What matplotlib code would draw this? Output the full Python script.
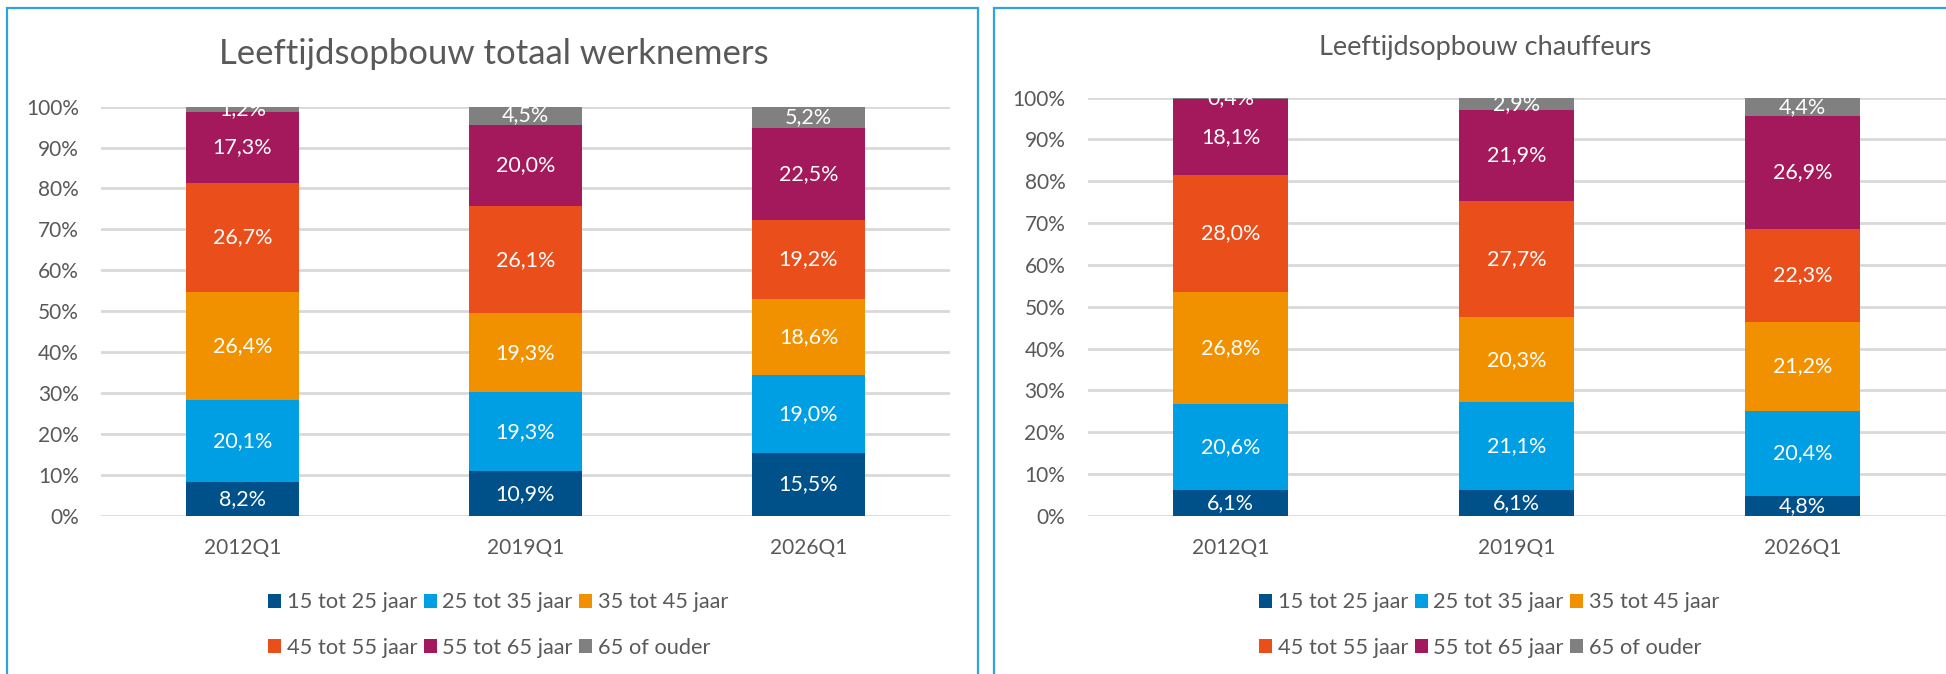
import matplotlib
matplotlib.use("Agg")
import matplotlib.pyplot as plt
from matplotlib.patches import Rectangle, Patch

plt.rcParams['font.family'] = ['Lato', 'DejaVu Sans']

categories = ["2012Q1", "2019Q1", "2026Q1"]
age_groups = ["15 tot 25 jaar", "25 tot 35 jaar", "35 tot 45 jaar",
              "45 tot 55 jaar", "55 tot 65 jaar", "65 of ouder"]
colors = ["#00508A", "#009FE3", "#F29100", "#E94E1B", "#A3195B", "#808080"]

# percentages per age group, per category
werknemers = [
    [8.2, 10.9, 15.5],
    [20.1, 19.3, 19.0],
    [26.4, 19.3, 18.6],
    [26.7, 26.1, 19.2],
    [17.3, 20.0, 22.5],
    [1.2, 4.5, 5.2],
]
chauffeurs = [
    [6.1, 6.1, 4.8],
    [20.6, 21.1, 20.4],
    [26.8, 20.3, 21.2],
    [28.0, 27.7, 22.3],
    [18.1, 21.9, 26.9],
    [0.4, 2.9, 4.4],
]
yticks = [0, 10, 20, 30, 40, 50, 60, 70, 80, 90, 100]
ytick_labels = [f"{t}%" for t in yticks]

W, H = 1946, 674
fig = plt.figure(figsize=(W / 100, H / 100), dpi=100)
fig.patch.set_facecolor("white")

txt_col = "#595959"
grid_col = "#D9D9D9"
border_col = "#2EA3E0"


def fx(x):
    return x / W


def fy(y):
    return 1 - y / H


def draw_panel(ax, data):
    x = list(range(len(categories)))
    bottoms = [0.0] * len(categories)
    for vals, col in zip(data, colors):
        ax.bar(x, vals, bottom=bottoms, width=0.4, color=col, zorder=3,
               linewidth=0)
        for i, v in enumerate(vals):
            yc = bottoms[i] + v / 2
            ax.text(i, yc, f"{v:.1f}%".replace(".", ","), ha="center",
                    va="center", color="white", fontsize=15.5, zorder=4,
                    clip_on=True)
        bottoms = [b + v for b, v in zip(bottoms, vals)]
    ax.set_xlim(-0.5, len(categories) - 0.5)
    ax.set_ylim(0, 100)
    ax.set_yticks(yticks)
    ax.set_yticklabels(ytick_labels)
    ax.set_xticks(x)
    ax.set_xticklabels(categories)
    ax.grid(axis="y", color=grid_col, linewidth=2, zorder=0)
    ax.set_axisbelow(True)
    for s in ax.spines.values():
        s.set_visible(False)
    ax.tick_params(axis="both", length=0, colors=txt_col, labelsize=15)
    ax.tick_params(axis="y", pad=16)
    ax.tick_params(axis="x", pad=16)


ax1 = fig.add_axes([fx(101), fy(516), fx(849), (516 - 106.6) / H])
draw_panel(ax1, werknemers)
ax2 = fig.add_axes([fx(1087.5), fy(516), fx(858), (516 - 97.6) / H])
draw_panel(ax2, chauffeurs)

fig.text(fx(494), fy(54), "Leeftijdsopbouw totaal werknemers", ha="center",
         va="center", fontsize=25, color=txt_col)
fig.text(fx(1485), fy(47), "Leeftijdsopbouw chauffeurs", ha="center",
         va="center", fontsize=19.5, color=txt_col)

handles = [Patch(facecolor=c, edgecolor="none") for c in colors]
order = [0, 3, 1, 4, 2, 5]
for cx in (498, 1489):
    leg = fig.legend([handles[i] for i in order], [age_groups[i] for i in order],
                     ncol=3, loc="center", bbox_to_anchor=(fx(cx), fy(625)),
                     frameon=False, fontsize=15.7, handlelength=0.6,
                     handleheight=0.6, handletextpad=0.25, columnspacing=0.3,
                     labelspacing=1.15)
    for t in leg.get_texts():
        t.set_color(txt_col)

# panel borders
fig.patches.append(Rectangle((fx(7), fy(700)), fx(971), (700 - 8) / H,
                             transform=fig.transFigure, fill=False,
                             edgecolor=border_col, linewidth=1.6))
fig.patches.append(Rectangle((fx(994), fy(700)), fx(1000), (700 - 8) / H,
                             transform=fig.transFigure, fill=False,
                             edgecolor=border_col, linewidth=1.6))

fig.savefig("out.png", dpi=100)
